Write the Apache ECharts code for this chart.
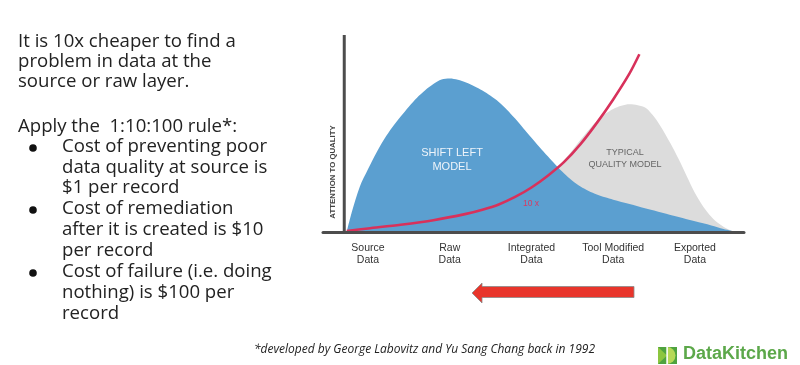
<!DOCTYPE html>
<html><head><meta charset="utf-8">
<script src="https://cdn.jsdelivr.net/npm/echarts@6/dist/echarts.min.js"></script>
<style>html,body{margin:0;padding:0;background:#fff}#c{width:800px;height:365px}</style>
</head><body><div id="c"></div>
<script>
const categories = ['Source\nData', 'Raw\nData', 'Integrated\nData', 'Tool Modified\nData', 'Exported\nData'];
const categoryPositions = [0, 1, 2, 3, 4];
const shiftLeftModel = [[-0.26,0],[-0.2,9.8],[-0.1,23],[0,31.8],[0.1,40],[0.2,47.2],[0.3,53.3],[0.4,58.6],[0.5,63.6],[0.6,68.2],[0.7,72],[0.8,75.1],[0.9,77.4],[1.0,77.9],[1.1,77.3],[1.2,75.9],[1.3,74],[1.4,71.8],[1.5,69.1],[1.6,66],[1.7,62.1],[1.8,57.6],[1.9,52.7],[2.0,47.9],[2.1,43],[2.2,38.4],[2.3,33.9],[2.4,29.7],[2.5,26],[2.6,23.1],[2.7,20.8],[2.8,19],[2.9,17.6],[3.0,16.4],[3.2,14.2],[3.4,11.9],[3.6,9.8],[3.8,7.6],[4.0,5.4],[4.2,3.3],[4.35,1.5],[4.5,0]];
const typicalQualityModel = [[1.0,0],[1.2,2],[1.4,4.5],[1.6,8],[1.8,13],[2.0,19.5],[2.2,27],[2.3,31.5],[2.4,36.5],[2.5,41.5],[2.6,46.8],[2.7,51.8],[2.8,56.3],[2.9,59.9],[3.0,62.5],[3.1,64.1],[3.2,64.8],[3.3,64.4],[3.4,63],[3.5,58.5],[3.6,52.3],[3.7,45],[3.8,37],[3.9,28.3],[4.0,19.8],[4.1,13],[4.2,7.8],[4.3,4],[4.4,1.5],[4.5,0]];
const costCurve = [[-0.26,0.5],[0,1.8],[0.4,3.7],[0.8,6],[1.2,9.2],[1.4,11.3],[1.6,14],[1.8,17.8],[2.0,22.6],[2.2,28.6],[2.4,35.6],[2.6,44.6],[2.8,55.4],[3.0,67.3],[3.2,80.5],[3.32,90.2]];
const yAxisLine = [[-0.29,0],[-0.29,100]];

const textLines = [
  ['It is 10x cheaper to find a', 18, 42, false],
  ['problem in data at the', 18, 62, false],
  ['source or raw layer.', 18, 82, false],
  ['Apply the  1:10:100 rule*:', 18, 127, false],
  ['Cost of preventing poor', 62, 147, true],
  ['data quality at source is', 62, 167.5, false],
  ['$1 per record', 62, 188, false],
  ['Cost of remediation', 62, 209, true],
  ['after it is created is $10', 62, 230, false],
  ['per record', 62, 251, false],
  ['Cost of failure (i.e. doing', 62, 272, true],
  ['nothing) is $100 per', 62, 293, false],
  ['record', 62, 314, false]
];

const chart = echarts.init(document.getElementById('c'), null, {renderer: 'canvas'});
const graphics = [];
textLines.forEach(function (l) {
  graphics.push({type: 'text', x: l[1], y: l[2], silent: true,
    style: {text: l[0], fill: '#222', font: '18.6px "Open Sans"', textVerticalAlign: 'middle'}});
  if (l[3]) graphics.push({type: 'circle', shape: {cx: 33, cy: l[2] + 1, r: 3.8}, style: {fill: '#111'}});
});
graphics.push(
  {type: 'text', x: 333, y: 172, rotation: Math.PI / 2, style: {text: 'ATTENTION TO QUALITY', fill: '#444', font: 'bold 7.8px "Liberation Sans"', textAlign: 'center', textVerticalAlign: 'middle'}, z: 20},
  {type: 'text', x: 452, y: 160, style: {text: 'SHIFT LEFT\nMODEL', fill: '#eef4fa', font: '11px "Liberation Sans"', lineHeight: 14, textAlign: 'center', textVerticalAlign: 'middle'}, z: 20},
  {type: 'text', x: 625, y: 158.5, style: {text: 'TYPICAL\nQUALITY MODEL', fill: '#666', font: '9px "Liberation Sans"', lineHeight: 11.5, textAlign: 'center', textVerticalAlign: 'middle'}, z: 20},
  {type: 'text', x: 531, y: 204, style: {text: '10 x', fill: '#d83a62', font: '8.5px "Liberation Sans"', textAlign: 'center', textVerticalAlign: 'middle'}, z: 20},
  {type: 'polygon', shape: {points: [[472,293],[482,283],[482,286.5],[634,286.5],[634,297.5],[482,297.5],[482,303]]}, style: {fill: '#e8352b', stroke: '#8a8a8a', lineWidth: 0.8}, z: 20},
  {type: 'text', x: 254, y: 350, style: {text: '*developed by George Labovitz and Yu Sang Chang back in 1992', fill: '#222', font: 'italic 12px "Open Sans"', textVerticalAlign: 'middle'}},
  {type: 'rect', shape: {x: 658, y: 347, width: 19, height: 17}, style: {fill: '#4fa33f'}},
  {type: 'polygon', shape: {points: [[658,347],[667,355.5],[658,364]]}, style: {fill: '#8cc63f'}},
  {type: 'sector', shape: {cx: 667, cy: 355.5, r0: 0, r: 8.5, startAngle: -Math.PI / 2, endAngle: Math.PI / 2, clockwise: true}, style: {fill: '#b6d957'}},
  {type: 'rect', shape: {x: 666.3, y: 347, width: 1.6, height: 17}, style: {fill: '#fff'}},
  {type: 'text', left: 683, top: 345, style: {text: 'DataKitchen', fill: '#5ca84a', font: 'bold 18px "Liberation Sans"'}}
);

chart.setOption({
  animation: false,
  grid: {left: 323, right: 56, top: 35, bottom: 133},
  xAxis: {type: 'value', min: -0.55, max: 4.6, z: 10,
    axisLine: {show: true, onZero: false, lineStyle: {color: '#4d4d4d', width: 3}},
    axisTick: {show: false}, splitLine: {show: false},
    axisLabel: {customValues: categoryPositions, margin: 10, color: '#333', fontSize: 10.5, lineHeight: 12, fontFamily: 'Liberation Sans',
      formatter: function (v) { return categories[Math.round(v)]; }}},
  yAxis: {type: 'value', min: 0, max: 100, show: false},
  series: [
    {type: 'line', data: typicalQualityModel, smooth: 0.3, showSymbol: false, lineStyle: {width: 0}, areaStyle: {color: '#dcdcdc', opacity: 1}, z: 1},
    {type: 'line', data: shiftLeftModel, smooth: 0.3, showSymbol: false, lineStyle: {width: 0}, areaStyle: {color: '#5b9fd0', opacity: 1}, z: 2},
    {type: 'line', data: costCurve, smooth: 0.3, showSymbol: false, lineStyle: {width: 2.6, color: '#d8315b'}, z: 3},
    {type: 'line', data: yAxisLine, showSymbol: false, lineStyle: {width: 3, color: '#4d4d4d'}, z: 4}
  ],
  graphic: graphics
});
</script></body></html>
